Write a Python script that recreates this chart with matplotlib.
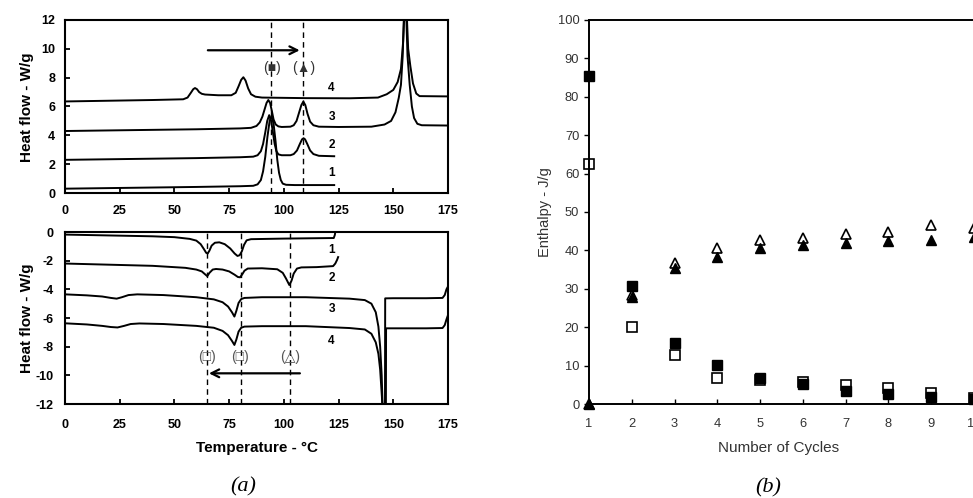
import numpy as np
import matplotlib
matplotlib.use('Agg')
import matplotlib.pyplot as plt

plt.rcParams['font.family'] = ['Liberation Sans', 'DejaVu Sans']
plt.rcParams['axes.unicode_minus'] = False

# heating scans (top), temperature in C, heat flow W/g
h1_T = [0, 20, 40, 60, 80, 86, 88, 89.5, 90.5, 91.5, 92.5, 93.5, 94.4, 95.3, 96.2, 97, 97.8, 98.6, 99.5, 101, 105, 115, 123]
h1_Q = [0.3, 0.34, 0.38, 0.42, 0.47, 0.5, 0.6, 0.9, 1.5, 2.5, 3.9, 5.0, 5.35, 4.8, 3.6, 2.3, 1.4, 0.9, 0.65, 0.57, 0.55, 0.55, 0.55]

h2_T = [0, 20, 40, 60, 80, 86, 88, 89.5, 90.5, 91.5, 92.4, 93.3, 94.2, 95, 95.8, 96.6, 97.5, 99, 103, 104.5, 106, 107.3, 108.3, 109, 109.7, 110.7, 112, 113.5, 116, 123]
h2_Q = [2.3, 2.34, 2.38, 2.42, 2.48, 2.52, 2.62, 2.9, 3.4, 4.2, 5.0, 5.4, 5.0, 4.2, 3.4, 2.9, 2.68, 2.62, 2.62, 2.7, 2.95, 3.4, 3.72, 3.8, 3.72, 3.4, 2.95, 2.7, 2.58, 2.55]

h3_T = [0, 20, 40, 60, 80, 85, 87.5, 89, 90.2, 91.2, 92.1, 92.9, 93.7, 94.5, 95.3, 96.3, 97.5, 99, 103, 104.5, 105.8, 107, 108, 108.9, 109.8, 110.8, 112, 113.5, 116, 125, 140, 146, 149, 151, 152.5, 153.5, 154.3, 155, 155.4, 155.8, 156.5, 157.5, 158.5, 159.5, 161, 163, 175]
h3_Q = [4.3, 4.34, 4.38, 4.42, 4.48, 4.52, 4.65, 4.9, 5.3, 5.8, 6.25, 6.45, 6.25, 5.7, 5.1, 4.75, 4.62, 4.58, 4.6, 4.7, 5.0, 5.6, 6.1, 6.34, 6.1, 5.5, 4.95, 4.7, 4.6, 4.58, 4.6, 4.75, 5.0, 5.6, 6.6, 7.5, 9.5, 13, 16, 13, 9.5, 7.5, 6.0, 5.2, 4.8, 4.7, 4.68]

h4_T = [0, 20, 40, 54, 56, 57.5, 58.6, 59.4, 60.3, 61.3, 62.5, 64, 70, 76, 78, 79.3, 80.5, 81.5, 82.5, 83.7, 85, 87, 90, 110, 130, 143, 147, 150, 152, 153.5, 154.5, 155.2, 155.6, 156, 156.8, 157.8, 159, 160.5, 162, 175]
h4_Q = [6.35, 6.4, 6.45, 6.5, 6.62, 6.95, 7.2, 7.28, 7.2, 7.0, 6.88, 6.83, 6.78, 6.78, 6.95, 7.4, 7.85, 8.03, 7.8, 7.25, 6.85, 6.68, 6.62, 6.58, 6.57, 6.62, 6.85, 7.15, 7.7, 8.6, 10.5, 13, 16, 13, 10, 8.8, 7.6, 6.9, 6.72, 6.7]

# cooling scans (bottom)
c1_T = [0, 20, 40, 50, 57, 60, 62, 63.5, 64.5, 65.2, 66, 67, 68.5, 70.5, 73, 75.5, 77.5, 78.8, 79.8, 80.8, 81.8, 83, 85, 100, 122.8, 123.3, 123.8]
c1_Q = [-0.18, -0.24, -0.3, -0.36, -0.48, -0.6, -0.85, -1.2, -1.45, -1.5, -1.3, -0.95, -0.75, -0.72, -0.85, -1.15, -1.5, -1.67, -1.62, -1.35, -0.9, -0.58, -0.5, -0.46, -0.42, -0.2, 0.3]

c2_T = [0, 20, 40, 55, 60, 62.5, 64, 65, 66, 67.5, 69, 72, 75, 77.5, 79, 80, 81, 82, 83.5, 90, 97, 99.5, 101, 102.5, 103.5, 104.5, 106, 108, 115, 122.5, 123.5, 124.3, 124.8]
c2_Q = [-2.2, -2.28, -2.36, -2.5, -2.62, -2.75, -2.95, -3.08, -2.85, -2.62, -2.58, -2.62, -2.75, -2.98, -3.14, -3.16, -2.95, -2.7, -2.55, -2.53, -2.6, -2.85, -3.25, -3.7, -3.4, -2.9, -2.55, -2.47, -2.45, -2.38, -2.2, -1.95, -1.75]

c3_T = [0, 10, 17, 21, 23.6, 26, 29, 33, 45, 60, 68, 72, 74.5, 76.3, 77.4, 78.3, 79.3, 80.5, 82, 90, 110, 130, 137, 140, 142, 143.2, 144, 144.7, 145.3, 145.8, 146.2, 146.3, 150, 165, 172.5, 173.5, 174.3, 175]
c3_Q = [-4.35, -4.42, -4.5, -4.6, -4.65, -4.55, -4.4, -4.35, -4.4, -4.55, -4.7, -4.9, -5.2, -5.6, -5.9, -5.5, -4.95, -4.68, -4.6, -4.55, -4.55, -4.65, -4.75, -5.0, -5.6, -6.6, -8.0, -10, -13, -14, -13, -4.63, -4.62, -4.62, -4.6, -4.4, -4.0, -3.8]

c4_T = [0, 10, 17, 21, 24, 27, 30, 34, 45, 60, 68, 72, 74.5, 76.3, 77.4, 78.3, 79.3, 80.5, 82, 90, 110, 130, 137, 140, 142, 143.2, 144, 144.8, 145.5, 146.0, 146.6, 146.7, 150, 165, 172.5, 173.5, 174.3, 175]
c4_Q = [-6.37, -6.45, -6.55, -6.63, -6.66, -6.55, -6.42, -6.38, -6.42, -6.55, -6.68, -6.9, -7.2, -7.6, -7.88, -7.5, -6.95, -6.68, -6.6, -6.57, -6.57, -6.7, -6.8, -7.1, -7.7, -8.5, -9.6, -11.5, -14, -14.5, -14, -6.72, -6.72, -6.72, -6.7, -6.5, -6.1, -5.8]

# enthalpy vs cycles
cycles = [1, 2, 3, 4, 5, 6, 7, 8, 9, 10]
sq_filled = [85.3, 30.8, 16.0, 10.1, 6.9, 5.1, 3.4, 2.6, 1.9, 1.2]
sq_open = [62.4, 20.0, 12.7, 6.9, 6.2, 5.8, 4.9, 4.2, 2.8, 1.6]
tri_filled = [0, 27.9, 35.3, 38.2, 40.5, 41.4, 42.0, 42.5, 42.8, 43.4]
tri_open = [0, 28.5, 36.6, 40.5, 42.7, 43.1, 44.4, 44.8, 46.6, 45.9]

W, H = 973, 498
fig = plt.figure(figsize=(W / 100, H / 100), dpi=100)

def px(x0, y0, x1, y1):
    return [x0 / W, 1 - y1 / H, (x1 - x0) / W, (y1 - y0) / H]

ax1 = fig.add_axes(px(65, 20, 448, 193))
ax2 = fig.add_axes(px(65, 232, 448, 404))
ax3 = fig.add_axes(px(589, 20, 974, 404))

for ax in (ax1, ax2):
    for s in ax.spines.values():
        s.set_linewidth(1.5)
    ax.set_xlim(0, 175)
    ax.set_xticks(range(0, 176, 25))
    ax.tick_params(direction='in', length=3.5, width=1.3, labelsize=9)

ax1.set_ylim(0, 12)
ax1.set_yticks(range(0, 13, 2))
ax1.tick_params(axis='x', pad=9)
ax1.tick_params(axis='y', pad=7)
ax2.set_ylim(-12, 0)
ax2.set_yticks(range(-12, 1, 2))
ax2.tick_params(axis='x', pad=10.5)
ax2.tick_params(axis='y', pad=8)
for ax in (ax1, ax2):
    for lab in ax.get_xticklabels() + ax.get_yticklabels():
        lab.set_fontweight('bold')

for T, Q in [(h1_T, h1_Q), (h2_T, h2_Q), (h3_T, h3_Q), (h4_T, h4_Q)]:
    ax1.plot(T, Q, color='black', lw=1.4)
for T, Q in [(c1_T, c1_Q), (c2_T, c2_Q), (c3_T, c3_Q), (c4_T, c4_Q)]:
    ax2.plot(T, Q, color='black', lw=1.4)

for xv in [94, 108.9]:
    ax1.axvline(xv, color='black', lw=1, ls=(0, (4, 3)))
for xv in [65, 80.3, 102.6]:
    ax2.axvline(xv, color='black', lw=1, ls=(0, (4, 3)))

for lab, y in [('4', 7.3), ('3', 5.25), ('2', 3.3), ('1', 1.4)]:
    ax1.text(121.8, y, lab, fontsize=8.5, fontweight='bold', ha='center', va='center')
for lab, y in [('1', -1.26), ('2', -3.2), ('3', -5.37), ('4', -7.6)]:
    ax2.text(121.8, y, lab, fontsize=8.5, fontweight='bold', ha='center', va='center')

ax1.annotate('', xy=(108.5, 9.9), xytext=(64, 9.9),
             arrowprops=dict(arrowstyle='->', lw=1.6, color='black', mutation_scale=14))
ax2.annotate('', xy=(64.5, -9.86), xytext=(108.6, -9.86),
             arrowprops=dict(arrowstyle='->', lw=1.6, color='black', mutation_scale=14))

ax1.text(94.4, 8.7, '(■)', fontsize=10, color='#333333', ha='center', va='center')
ax1.text(108.9, 8.7, '(▲)', fontsize=10, color='#333333', ha='center', va='center')
for xv, s in [(64.7, '(□)'), (80, '(□)'), (102.8, '(△)')]:
    ax2.text(xv, -8.7, s, fontsize=10, color='#555555', ha='center', va='center')

fig.text(27 / W, 1 - 107 / H, 'Heat flow - W/g', rotation=90, fontsize=11,
         fontweight='bold', ha='center', va='center')
fig.text(27 / W, 1 - 318 / H, 'Heat flow - W/g', rotation=90, fontsize=11,
         fontweight='bold', ha='center', va='center')
fig.text(257 / W, 1 - 448 / H, 'Temperature - °C', fontsize=11,
         fontweight='bold', ha='center', va='center')
fig.text(243.5 / W, 1 - 487 / H, '(a)', fontsize=16, style='italic',
         family='Liberation Serif', ha='center', va='center')

# right panel
ax3.plot(cycles, sq_open, 's', ms=6.5, mfc='white', mec='black', mew=1.2, clip_on=False)
ax3.plot(cycles, tri_open, '^', ms=6.5, mfc='white', mec='black', mew=1.2, clip_on=False)
ax3.plot(cycles, sq_filled, 's', ms=6.5, mfc='black', mec='black', clip_on=False)
ax3.plot(cycles, tri_filled, '^', ms=6.5, mfc='black', mec='black', clip_on=False)
ax3.set_xlim(1, 10)
ax3.set_ylim(0, 100)
ax3.set_xticks(cycles)
ax3.set_yticks(range(0, 101, 10))
for s in ax3.spines.values():
    s.set_linewidth(1.4)
ax3.tick_params(axis='y', direction='out', length=3.5, width=1, pad=3.5,
                labelsize=9.3, labelcolor='#333333')
ax3.tick_params(axis='x', direction='in', length=3.5, width=1, pad=10,
                labelsize=9.3, labelcolor='#333333')
fig.text(545 / W, 1 - 212 / H, 'Enthalpy - J/g', rotation=90, fontsize=10.5,
         color='#333333', ha='center', va='center')
fig.text(779 / W, 1 - 448 / H, 'Number of Cycles', fontsize=11,
         color='#333333', ha='center', va='center')
fig.text(768.5 / W, 1 - 487.5 / H, '(b)', fontsize=16, style='italic',
         family='Liberation Serif', ha='center', va='center')

fig.savefig('out.png', dpi=100)
